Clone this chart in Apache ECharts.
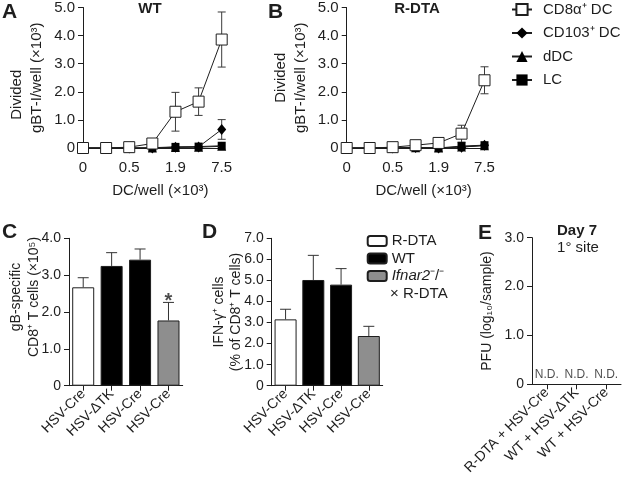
<!DOCTYPE html>
<html><head><meta charset="utf-8">
<script src="https://cdn.jsdelivr.net/npm/echarts@6/dist/echarts.min.js"></script>
<style>html,body{margin:0;padding:0;background:#fff}#c{width:625px;height:490px}</style>
</head><body><div id="c"></div>
<script>
// ---- data ----
const dcCats = ['0', '0.23', '0.5', '0.94', '1.9', '3.75', '7.5'];
const dcNames = ['CD8α⁺ DC', 'CD103⁺ DC', 'dDC', 'LC'];
// Panel A (WT)
const wtCD8 = [0, 0, 0.03, 0.16, 1.29, 1.65, 3.86];
const wtCD8sd = [0, 0, 0, 0, 0.69, 0.49, 0.98];
const wtCD103 = [0, 0, 0, 0, 0.03, 0.04, 0.66];
const wtCD103sd = [0, 0, 0, 0, 0, 0, 0.35];
const wtDDC = [0, 0, 0, 0, 0.02, 0.03, 0.06];
const wtLC = [0, 0, 0, 0.01, 0.04, 0.05, 0.08];
// Panel B (R-DTA)
const rdCD8 = [0, 0, 0.03, 0.1, 0.18, 0.51, 2.41];
const rdCD8sd = [0, 0, 0, 0, 0, 0.3, 0.48];
const rdCD103 = [0, 0, 0, 0.02, 0, 0.03, 0.1];
const rdDDC = [0, 0, 0, 0.01, 0, 0.04, 0.08];
const rdLC = [0, 0, 0, 0.02, 0, 0.07, 0.1];
// Panels C, D
const barCats = ['HSV-Cre', 'HSV-ΔTK', 'HSV-Cre', 'HSV-Cre'];
const barGroups = ['R-DTA', 'WT', 'WT', 'Ifnar2⁻/⁻'];
const groupNames = ['R-DTA', 'WT', 'Ifnar2⁻/⁻'];
const cVals = [2.67, 3.25, 3.42, 1.77];
const cErr = [0.26, 0.36, 0.29, 0.49];
const dVals = [3.15, 5.02, 4.8, 2.36];
const dErr = [0.48, 1.17, 0.76, 0.46];
// Panel E
const eCats = ['R-DTA + HSV-Cre', 'WT + HSV-ΔTK', 'WT + HSV-Cre'];
const eVals = [0, 0, 0];

// ---- styles ----
const FF = "'Liberation Sans', Arial, sans-serif";
const INK = '#1e1e1e';
const groupStyle = {
  'R-DTA': {color: '#ffffff', borderColor: INK, borderWidth: 1},
  'WT': {color: '#000000', borderColor: INK, borderWidth: 1},
  'Ifnar2⁻/⁻': {color: '#8e8e8e', borderColor: INK, borderWidth: 1}
};
const symStyle = [
  {symbol: 'rect', symbolSize: 11, itemStyle: {color: '#fff', borderColor: INK, borderWidth: 1}, z: 6},
  {symbol: 'diamond', symbolSize: [9, 11], itemStyle: {color: '#000', borderColor: '#000', borderWidth: 0}, z: 5},
  {symbol: 'triangle', symbolSize: 9, itemStyle: {color: '#000', borderColor: '#000', borderWidth: 0}, z: 4},
  {symbol: 'rect', symbolSize: 8, itemStyle: {color: '#000', borderColor: '#000', borderWidth: 0}, z: 3}
];
const yFmt = v => v === 0 ? '0' : v.toFixed(1);

function lineSeries(name, data, k, gi) {
  const s = symStyle[k];
  return {
    type: 'line', name, data, xAxisIndex: gi, yAxisIndex: gi,
    symbol: s.symbol, symbolSize: s.symbolSize, showAllSymbol: true,
    itemStyle: s.itemStyle, lineStyle: {color: INK, width: 1}, z: s.z,
    emphasis: {disabled: true}, animation: false
  };
}
function errSeries(gi, vals, sds, both, capW, color) {
  const items = [];
  vals.forEach((v, i) => { if (sds[i] > 0) items.push(both ? [i, v - sds[i], v + sds[i]] : [i, v, v + sds[i]]); });
  return {
    type: 'custom', xAxisIndex: gi, yAxisIndex: gi, z: both ? 2 : 3, silent: true, animation: false,
    data: items, encode: {x: 0, y: [1, 2]},
    renderItem: function (params, api) {
      const x = api.value(0), lo = api.value(1), hi = api.value(2);
      const t = api.coord([x, hi]), b = api.coord([x, lo]);
      const st = {stroke: color, lineWidth: 1};
      const ch = [
        {type: 'line', shape: {x1: t[0], y1: t[1], x2: b[0], y2: b[1]}, style: st},
        {type: 'line', shape: {x1: t[0] - capW / 2, y1: t[1], x2: t[0] + capW / 2, y2: t[1]}, style: st}
      ];
      if (both) ch.push({type: 'line', shape: {x1: b[0] - capW / 2, y1: b[1], x2: b[0] + capW / 2, y2: b[1]}, style: st});
      return {type: 'group', children: ch};
    }
  };
}
function barSeries(gi, vals) {
  return groupNames.map(g => ({
    type: 'bar', name: g, xAxisIndex: gi, yAxisIndex: gi, stack: 'g' + gi, barWidth: 22,
    data: vals.map((v, i) => barGroups[i] === g ? v : '-'),
    itemStyle: groupStyle[g], z: 2, animation: false, emphasis: {disabled: true}
  }));
}

const axLine = {show: true, lineStyle: {color: INK, width: 1}};
const txt = {color: INK, fontFamily: FF};

function dcX(gi) {
  return {
    type: 'category', gridIndex: gi, data: dcCats, boundaryGap: false,
    axisLine: axLine, axisTick: {show: false},
    axisLabel: Object.assign({interval: 1, fontSize: 15, margin: 12}, txt),
    name: 'DC/well (×10³)', nameLocation: 'middle', nameGap: 35, nameMoveOverlap: false,
    nameTextStyle: Object.assign({fontSize: 15, padding: [0, 0, 0, 16]}, txt)
  };
}
function barX(gi, cats) {
  return {
    type: 'category', gridIndex: gi, data: cats, boundaryGap: true,
    axisLine: axLine, axisTick: {show: true, alignWithLabel: true, length: 5, lineStyle: {color: INK}},
    axisLabel: Object.assign({rotate: 45, fontSize: 14, margin: 6, interval: 0}, txt)
  };
}
function valY(gi, max, name, gap, nameStyle, labSize) {
  return {
    type: 'value', gridIndex: gi, min: 0, max: max, interval: 1,
    axisLine: axLine, axisTick: {show: true, length: 5, lineStyle: {color: INK}},
    splitLine: {show: false},
    axisLabel: Object.assign({fontSize: labSize || 15, margin: 8, formatter: yFmt}, txt),
    name: name, nameLocation: 'middle', nameGap: gap, nameMoveOverlap: false,
    nameTextStyle: Object.assign({fontSize: 15, lineHeight: 20}, txt, nameStyle || {})
  };
}

const series = [];
[[wtLC, 3], [wtDDC, 2], [wtCD103, 1], [wtCD8, 0]].forEach(([d, k]) => series.push(lineSeries(dcNames[k], d, k, 0)));
[[rdLC, 3], [rdDDC, 2], [rdCD103, 1], [rdCD8, 0]].forEach(([d, k]) => series.push(lineSeries(dcNames[k], d, k, 1)));
series.push(errSeries(0, wtCD8, wtCD8sd, true, 8, '#3a3a3a'));
series.push(errSeries(0, wtCD103, wtCD103sd, true, 8, '#3a3a3a'));
series.push(errSeries(1, rdCD8, rdCD8sd, true, 8, '#3a3a3a'));
barSeries(2, cVals).forEach(s => series.push(s));
barSeries(3, dVals).forEach(s => series.push(s));
series.push(errSeries(2, cVals, cErr, false, 11, '#333'));
series.push(errSeries(3, dVals, dErr, false, 11, '#333'));
series.push({
  type: 'scatter', xAxisIndex: 2, yAxisIndex: 2, symbolSize: 1, itemStyle: {color: 'rgba(0,0,0,0)'},
  data: [[3, cVals[3] + cErr[3]]], silent: true, animation: false,
  label: {show: true, position: 'top', distance: 0, offset: [0, 10], formatter: '*', fontSize: 20, fontWeight: 'bold', color: INK, fontFamily: FF}
});
series.push({
  type: 'scatter', xAxisIndex: 4, yAxisIndex: 4, symbolSize: 1, itemStyle: {color: 'rgba(0,0,0,0)'},
  data: eVals, silent: true, animation: false, clip: false,
  label: {show: true, position: 'top', distance: 3, formatter: 'N.D.', fontSize: 12, color: INK, fontFamily: FF}
});

function gtext(text, x, y, size, opts) {
  return {
    type: 'text', x: x, y: y, silent: true,
    style: Object.assign({text: text, fill: INK, fontFamily: FF, fontSize: size,
      textAlign: 'left', textVerticalAlign: 'middle', align: 'left', verticalAlign: 'middle'}, opts || {})
  };
}
const cen = {textAlign: 'center', align: 'center'};

const option = {
  backgroundColor: '#fff',
  animation: false,
  grid: [
    {left: 83, top: 5, width: 138.7, height: 143},
    {left: 346.7, top: 5, width: 137.8, height: 143},
    {left: 69, top: 238.3, width: 113.7, height: 147.4},
    {left: 271.7, top: 238.3, width: 111, height: 147.4},
    {left: 532, top: 237.7, width: 89, height: 146.6}
  ],
  xAxis: [dcX(0), dcX(1), barX(2, barCats), barX(3, barCats), barX(4, eCats)],
  yAxis: [
    valY(0, 5, '{d|Divided}\ngBT-I/well (×10³)', 36, {rich: {d: {fontSize: 15, fontFamily: FF, color: INK, padding: [0, 34, 0, 0]}}}),
    valY(1, 5, 'Divided\ngBT-I/well (×10³)', 36),
    valY(2, 4, 'gB-specific\nCD8⁺ T cells (×10⁵)', 26, {fontSize: 14, lineHeight: 18, padding: [0, 0, 0, 30]}, 14),
    valY(3, 7, 'IFN-γ⁺ cells\n(% of CD8⁺ T cells)', 27, {fontSize: 14, lineHeight: 17}, 14),
    valY(4, 3, 'PFU (log₁₀/sample)', 35, {fontSize: 14}, 14)
  ],
  legend: [
    {
      data: dcNames, orient: 'vertical', left: 511, top: 2, padding: 0, itemWidth: 20, itemHeight: 14, itemGap: 8.5,
      textStyle: {fontSize: 15, color: INK, fontFamily: FF, padding: [0, 0, 0, 6]}, selectedMode: false
    },
    {
      data: groupNames, orient: 'vertical', left: 366.7, top: 233, padding: 0, itemWidth: 19, itemHeight: 10, itemGap: 1.5,
      textStyle: {fontSize: 15, color: INK, fontFamily: FF, lineHeight: 16,
        rich: {i: {fontStyle: 'italic', fontSize: 15, color: INK, fontFamily: FF}}},
      formatter: n => n === 'Ifnar2⁻/⁻' ? '{i|Ifnar2}⁻/⁻' : n, selectedMode: false
    }
  ],
  graphic: [
    gtext('A', 2, 12.5, 21, {fontWeight: 'bold'}),
    gtext('B', 268, 12.5, 21, {fontWeight: 'bold'}),
    gtext('C', 2, 232.5, 21, {fontWeight: 'bold'}),
    gtext('D', 202, 232, 21, {fontWeight: 'bold'}),
    gtext('E', 478, 233.5, 21, {fontWeight: 'bold'}),
    gtext('WT', 150, 9, 15, Object.assign({fontWeight: 'bold'}, cen)),
    gtext('R-DTA', 417, 9, 15, Object.assign({fontWeight: 'bold'}, cen)),
    gtext('Day 7', 577, 231, 15, Object.assign({fontWeight: 'bold'}, cen)),
    gtext('1° site', 578, 248, 15, cen),
    gtext('× R-DTA', 390, 294, 15)
  ],
  series: series
};
const chart = echarts.init(document.getElementById('c'), null, {renderer: 'canvas'});
chart.setOption(option);
</script></body></html>
